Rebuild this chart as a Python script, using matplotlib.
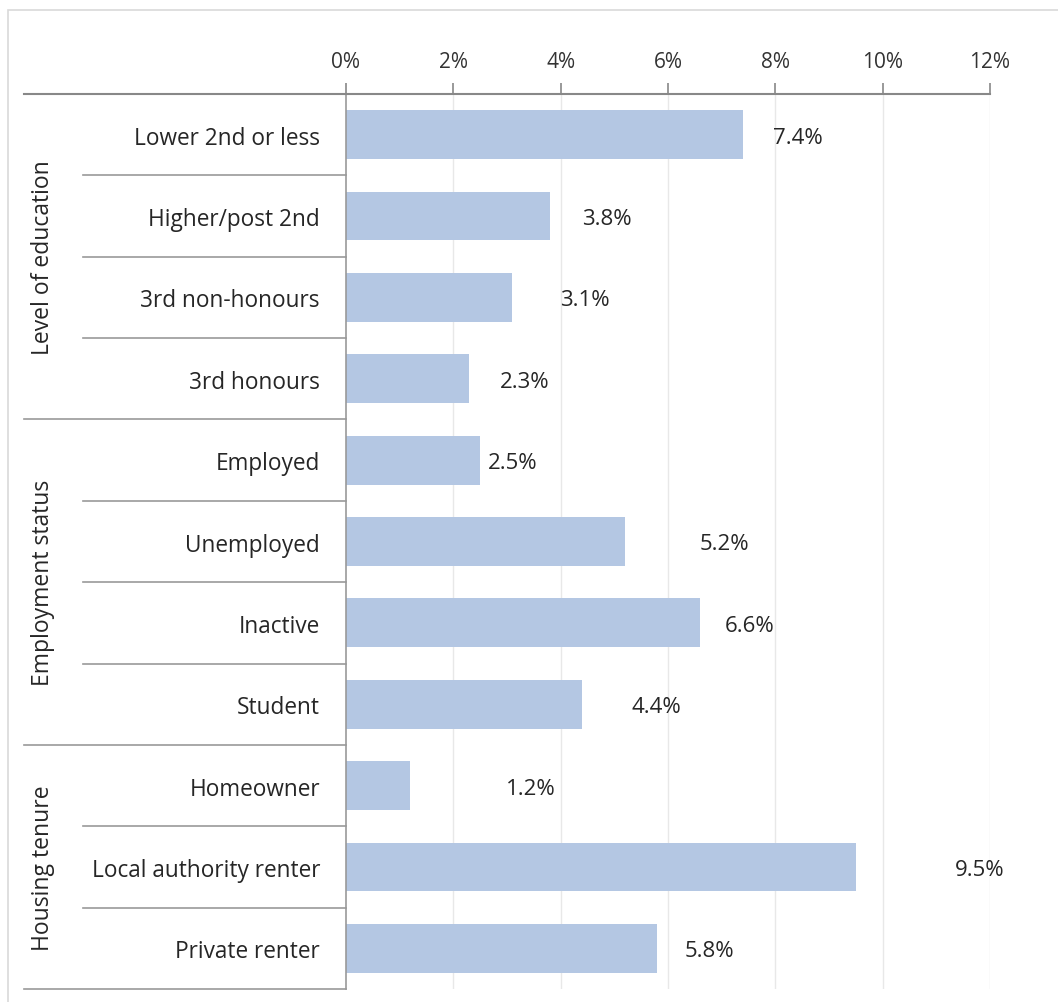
import matplotlib.pyplot as plt
from matplotlib.patches import Rectangle
import matplotlib.transforms as mtransforms

plt.rcParams['font.family'] = ['Open Sans', 'DejaVu Sans']

# data
categories = ["Lower 2nd or less", "Higher/post 2nd", "3rd non-honours", "3rd honours",
              "Employed", "Unemployed", "Inactive", "Student",
              "Homeowner", "Local authority renter", "Private renter"]
values = [7.4, 3.8, 3.1, 2.3, 2.5, 5.2, 6.6, 4.4, 1.2, 9.5, 5.8]
groups = ["Level of education", "Employment status", "Housing tenure"]
group_sizes = [4, 4, 3]
xticks = [0, 2, 4, 6, 8, 10, 12]

# where Excel left the data labels (in % units)
label_x = [8.42, 4.86, 4.45, 3.33, 3.11, 7.06, 7.52, 5.79, 3.44, 11.8, 6.78]

W, H = 1058, 1003
fig = plt.figure(figsize=(W / 100, H / 100), dpi=100)
ax = fig.add_axes([346 / W, 1 - 990 / H, (990 - 346) / W, (990 - 95) / H])

# outer chart frame
fig.patches.append(Rectangle((8 / W, -0.05), 1.2, 1 - 11 / H + 0.05, transform=fig.transFigure,
                             fill=False, edgecolor='#d9d9d9', linewidth=1.2))

n = len(categories)
ypos = list(range(n))
ax.barh(ypos, values, height=0.6, color='#b4c7e3', zorder=2)

ax.set_xlim(0, 12)
ax.set_ylim(n - 0.5, -0.5)
ax.set_xticks(xticks)
ax.set_xticklabels([f"{t}%" for t in xticks], fontsize=15, color='#333333')
ax.xaxis.tick_top()
ax.tick_params(axis='x', length=8, width=1.2, color='#888888', pad=8)
ax.set_yticks([])
for t in xticks[1:]:
    ax.axvline(t, color='#e8e8e8', linewidth=1, zorder=1)

for s in ['right', 'bottom']:
    ax.spines[s].set_visible(False)
ax.spines['top'].set_color('#888888')
ax.spines['top'].set_linewidth(1.5)
ax.spines['left'].set_color('#999999')
ax.spines['left'].set_linewidth(1.2)

for y, v, lx in zip(ypos, values, label_x):
    ax.text(lx, y, f"{v:.1f}%", ha='center', va='center_baseline', fontsize=16, color='#262626')

trans = mtransforms.blended_transform_factory(ax.transAxes, ax.transData)
x_group = (24 - 346) / 644
x_cat = (83 - 346) / 644

# top axis line extends over the label area
ax.plot([x_group, 0], [-0.5, -0.5], transform=trans, color='#888888', lw=1.5, clip_on=False)

start = 0
for g, size in zip(groups, group_sizes):
    end = start + size
    for k in range(start + 1, end):
        ax.plot([x_cat, 0], [k - 0.5, k - 0.5], transform=trans, color='#999999', lw=1.2, clip_on=False)
    ax.plot([x_group, 0], [end - 0.5, end - 0.5], transform=trans, color='#999999', lw=1.2, clip_on=False)
    ax.text((43 - 346) / 644, (start + end - 1) / 2, g, transform=trans, rotation=90,
            ha='center', va='center', fontsize=16.5, color='#262626')
    start = end

for y, c in zip(ypos, categories):
    ax.text((320 - 346) / 644, y, c, transform=trans, ha='right', va='center_baseline',
            fontsize=16.3, color='#262626')

fig.savefig('out.png', dpi=100)
